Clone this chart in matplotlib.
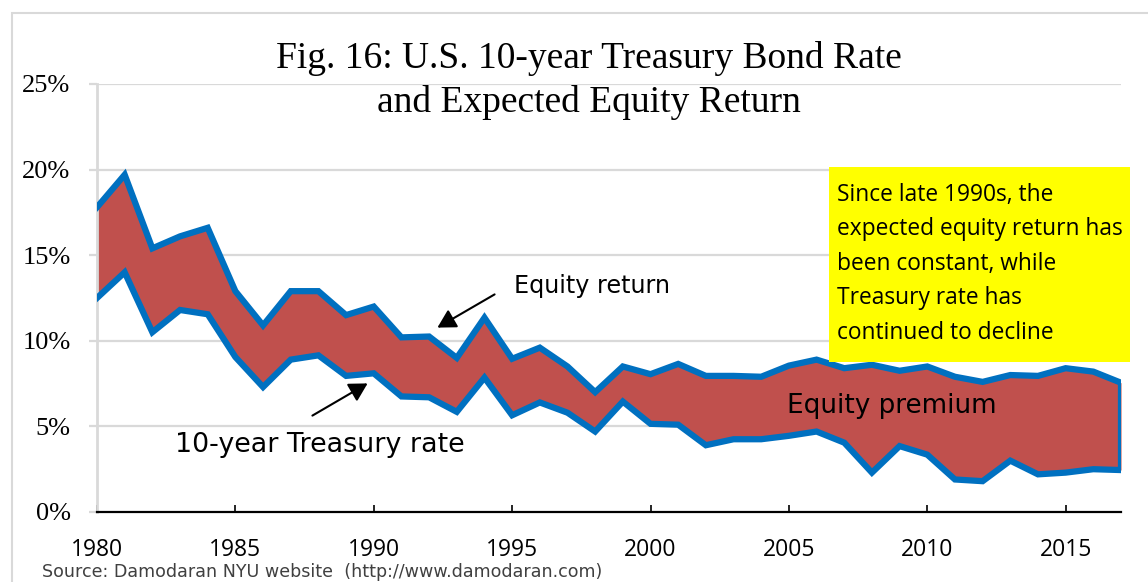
import matplotlib
matplotlib.use("Agg")
import matplotlib.pyplot as plt
from matplotlib.patches import Rectangle

years = list(range(1980, 2018))
equity_return = [17.8, 19.7, 15.4, 16.1, 16.6, 12.9, 10.9, 12.9, 12.9, 11.5,
                 12.0, 10.2, 10.25, 9.0, 11.35, 8.95, 9.6, 8.5, 7.0, 8.5,
                 8.05, 8.65, 7.95, 7.95, 7.9, 8.55, 8.9, 8.4, 8.6, 8.25,
                 8.5, 7.9, 7.6, 8.0, 7.95, 8.4, 8.2, 7.55]
treasury_rate = [12.5, 14.0, 10.5, 11.8, 11.55, 9.05, 7.3, 8.9, 9.15, 7.95,
                 8.1, 6.75, 6.7, 5.85, 7.85, 5.65, 6.4, 5.8, 4.7, 6.45,
                 5.15, 5.1, 3.9, 4.25, 4.25, 4.45, 4.7, 4.05, 2.3, 3.85,
                 3.35, 1.9, 1.8, 3.0, 2.2, 2.3, 2.5, 2.45]
y_ticks = [0, 5, 10, 15, 20, 25]
y_tick_labels = ["0%", "5%", "10%", "15%", "20%", "25%"]
x_ticks = [1980, 1985, 1990, 1995, 2000, 2005, 2010, 2015]
x_tick_labels = ["1980", "1985", "1990", "1995", "2000", "2005", "2010", "2015"]
title_lines = ["Fig. 16: U.S. 10-year Treasury Bond Rate", "and Expected Equity Return"]
box_lines = ["Since late 1990s, the", "expected equity return has",
             "been constant, while", "Treasury rate has", "continued to decline"]
source_text = "Source: Damodaran NYU website  (http://www.damodaran.com)"

W, H = 1148, 582
AX_L, AX_R, AX_T, AX_B = 97, 1121, 84, 512

fig = plt.figure(figsize=(W / 100, H / 100), dpi=100)
fig.patch.set_facecolor("white")
ax = fig.add_axes([AX_L / W, (H - AX_B) / H, (AX_R - AX_L) / W, (AX_B - AX_T) / H])

X0, X1 = 1980, 2017
ax.set_xlim(X0, X1)
ax.set_ylim(0, 25)


def px2x(px):
    return X0 + (px - AX_L) * (X1 - X0) / (AX_R - AX_L)


def py2y(py):
    return (AX_B - py) * 25 / (AX_B - AX_T)


# outer light border
fig.patches.append(Rectangle((12 / W, -0.2), 1.2, 1 - 13 / H + 0.2, transform=fig.transFigure,
                             fill=False, edgecolor="#d9d9d9", lw=1.5))

grid_c = "#d9d9d9"
for yv in y_ticks[1:]:
    ax.axhline(yv, color=grid_c, lw=1.6, zorder=0)

red = "#c0504d"
blue = "#0070c0"
ax.fill_between(years, treasury_rate, equity_return, color=red, lw=0, zorder=2)
ax.plot(years, equity_return, color=blue, lw=4.5, zorder=3, solid_joinstyle="miter")
ax.plot(years, treasury_rate, color=blue, lw=4.5, zorder=3, solid_joinstyle="miter")
ax.vlines(years[-1], treasury_rate[-1], equity_return[-1], color=blue, lw=4.5, zorder=3)

for s in ["top", "right"]:
    ax.spines[s].set_visible(False)
ax.spines["left"].set_color(grid_c)
ax.spines["left"].set_linewidth(2)
ax.spines["bottom"].set_color("black")
ax.spines["bottom"].set_linewidth(1.6)
ax.spines["bottom"].set_zorder(4)

ax.set_yticks(y_ticks)
ax.set_yticklabels(y_tick_labels, fontfamily="Liberation Serif", fontsize=19)
ax.tick_params(axis="y", direction="out", length=6, width=1.6, color=grid_c, pad=13)
ax.set_xticks(x_ticks)
ax.set_xticklabels(x_tick_labels, fontfamily="Open Sans", fontsize=16.5)
ax.tick_params(axis="x", direction="in", length=5, width=1.2, color="black", pad=19)

# title
fig.text(589 / W, 1 - 68 / H, title_lines[0], ha="center", va="baseline",
         fontfamily="Liberation Serif", fontsize=27)
fig.text(589 / W, 1 - 112 / H, title_lines[1], ha="center", va="baseline",
         fontfamily="Liberation Serif", fontsize=27)

arrow_style = "-|>,head_length=0.5,head_width=0.28"

# annotations
ax.text(px2x(514), py2y(293), "Equity return", fontfamily="DejaVu Sans", fontsize=17.2,
        va="baseline", ha="left", zorder=6)
ax.annotate("", xy=(px2x(435), py2y(329)), xytext=(px2x(497), py2y(293)),
            arrowprops=dict(arrowstyle=arrow_style, color="black", lw=1.5, mutation_scale=22),
            zorder=6)
ax.text(px2x(175), py2y(452), "10-year Treasury rate", fontfamily="DejaVu Sans", fontsize=19.4,
        va="baseline", ha="left", zorder=6)
ax.annotate("", xy=(px2x(370), py2y(382)), xytext=(px2x(310), py2y(417)),
            arrowprops=dict(arrowstyle=arrow_style, color="black", lw=1.5, mutation_scale=22),
            zorder=6)
ax.text(px2x(787), py2y(413), "Equity premium", fontfamily="DejaVu Sans", fontsize=18.9,
        va="baseline", ha="left", zorder=6)

# yellow box
ax.add_patch(Rectangle((px2x(829), py2y(362)), px2x(1130) - px2x(829), py2y(167) - py2y(362),
                       facecolor="#ffff00", edgecolor="none", clip_on=False, zorder=5))
for i, line in enumerate(box_lines):
    ax.text(px2x(837), py2y(200.7 + i * 34.5), line, fontfamily="Open Sans", fontsize=16.4,
            va="baseline", ha="left", zorder=6, clip_on=False)

fig.text(42 / W, 1 - 572 / H, source_text, ha="left", va="center",
         fontfamily="DejaVu Sans", fontsize=12.6, color="#404040")

fig.savefig("out.png", dpi=100)
